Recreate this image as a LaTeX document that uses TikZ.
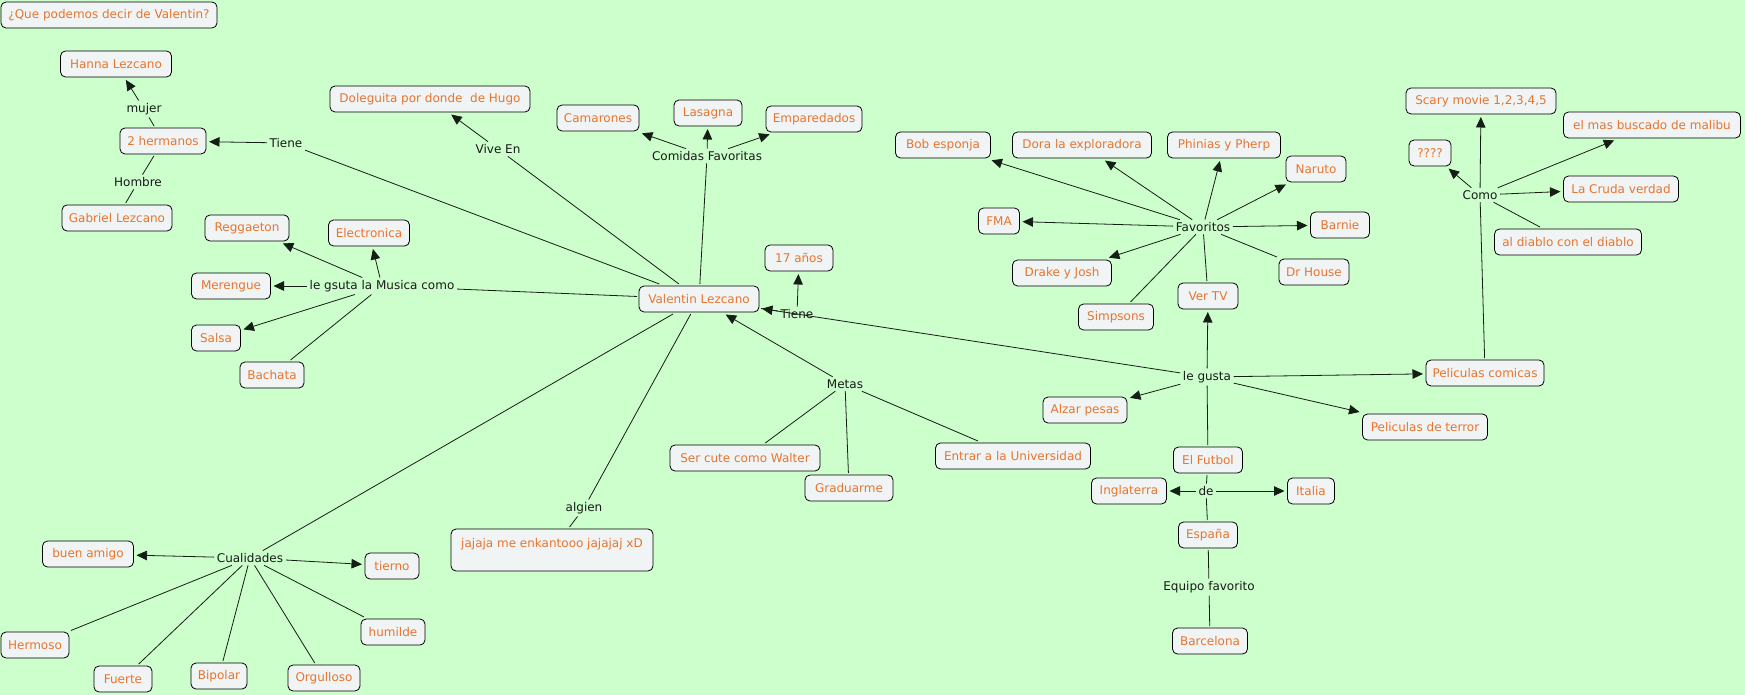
\documentclass[tikz,border=0pt]{standalone}
\usepackage{fontspec}
\setmainfont{DejaVu Sans}
\usetikzlibrary{arrows.meta}
\definecolor{bg}{RGB}{204,255,204}
\definecolor{boxfill}{RGB}{240,244,245}
\definecolor{orangetxt}{RGB}{232,116,46}
\definecolor{linecol}{RGB}{20,30,20}
\newcommand{\fs}{\fontsize{12}{14.5}\selectfont}
\tikzset{
  concept/.style={draw=black, line width=0.8pt, rounded corners=5pt, fill=boxfill,
    text=orangetxt, minimum height=26pt, inner xsep=3pt, inner ysep=0pt, outer sep=2pt, font=\fs},
  link/.style={text=black!90, inner sep=2.5pt, font=\fs},
  ln/.style={line width=0.8pt, draw=linecol},
  arr/.style={ln, -{Triangle[length=10.5pt,width=9.5pt]}, shorten >=1pt},
}
\begin{document}
\begin{tikzpicture}[x=1pt,y=-1pt]
\fill[bg] (0,0) rectangle (1745,695);
\useasboundingbox (0,0) rectangle (1745,695);
% concepts
\node[concept, minimum width=216pt] (q) at (109,15) {¿Que podemos decir de Valentin?};
\node[concept, minimum width=111pt] (hanna) at (116,64) {Hanna Lezcano};
\node[concept, minimum width=86pt] (herm) at (163,141) {2 hermanos};
\node[concept, minimum width=110pt] (gabriel) at (117,218) {Gabriel Lezcano};
\node[concept, minimum width=200pt] (dole) at (430,99) {Doleguita por donde\ \ de Hugo};
\node[concept, minimum width=84pt] (regg) at (247,228) {Reggaeton};
\node[concept, minimum width=81pt] (elec) at (369,233) {Electronica};
\node[concept, minimum width=79pt] (mer) at (231,286) {Merengue};
\node[concept, minimum width=49pt] (salsa) at (216,338) {Salsa};
\node[concept, minimum width=64pt] (bach) at (272,375) {Bachata};
\node[concept, minimum width=82pt] (cam) at (598,118) {Camarones};
\node[concept, minimum width=68pt] (las) at (708,113) {Lasagna};
\node[concept, minimum width=96pt] (emp) at (814,119) {Emparedados};
\node[concept, minimum width=95pt] (bob) at (943,145) {Bob esponja};
\node[concept, minimum width=139pt] (dora) at (1082,145) {Dora la exploradora};
\node[concept, minimum width=113pt] (phin) at (1224,145) {Phinias y Pherp};
\node[concept, minimum width=41pt] (fma) at (999,221) {FMA};
\node[concept, minimum width=99pt] (drake) at (1062,273) {Drake y Josh};
\node[concept, minimum width=75pt] (simp) at (1116,317) {Simpsons};
\node[concept, minimum width=60pt] (vertv) at (1208,296) {Ver TV};
\node[concept, minimum width=68pt] (anos) at (799,258) {17 años};
\node[concept, minimum width=120pt] (val) at (699,299) {Valentin Lezcano};
\node[concept, minimum width=150pt] (scary) at (1481,101) {Scary movie 1,2,3,4,5};
\node[concept, minimum width=177pt] (malibu) at (1652,125) {el mas buscado de malibu};
\node[concept, minimum width=42pt] (qqq) at (1430,153) {????};
\node[concept, minimum width=115pt] (cruda) at (1621,189) {La Cruda verdad};
\node[concept, minimum width=147pt] (diablo) at (1568,242) {al diablo con el diablo};
\node[concept, minimum width=60pt] (naruto) at (1316,169) {Naruto};
\node[concept, minimum width=59pt] (barnie) at (1340,225) {Barnie};
\node[concept, minimum width=70pt] (house) at (1314,272) {Dr House};
\node[concept, minimum width=118pt] (pcom) at (1485,373) {Peliculas comicas};
\node[concept, minimum width=84pt] (alzar) at (1085,410) {Alzar pesas};
\node[concept, minimum width=125pt] (pter) at (1425,427) {Peliculas de terror};
\node[concept, minimum width=69pt] (futbol) at (1208,460) {El Futbol};
\node[concept, minimum width=75pt] (ingl) at (1129,491) {Inglaterra};
\node[concept, minimum width=47pt] (italia) at (1311,491) {Italia};
\node[concept, minimum width=59pt] (espana) at (1208,535) {España};
\node[concept, minimum width=75pt] (barca) at (1210,641) {Barcelona};
\node[concept, minimum width=150pt] (walter) at (745,458) {Ser cute como Walter};
\node[concept, minimum width=88pt] (grad) at (849,488) {Graduarme};
\node[concept, minimum width=155pt] (entrar) at (1013,456) {Entrar a la Universidad};
\node[concept, minimum width=91pt] (amigo) at (88,554) {buen amigo};
\node[concept, minimum width=54pt] (tierno) at (392,566) {tierno};
\node[concept, minimum width=202pt, minimum height=42pt, align=center] (jaja) at (552,550) {jajaja me enkantooo jajajaj xD\\ \mbox{}};
\node[concept, minimum width=68pt] (hermoso) at (35,645) {Hermoso};
\node[concept, minimum width=58pt] (fuerte) at (123,679) {Fuerte};
\node[concept, minimum width=56pt] (bipolar) at (219,676) {Bipolar};
\node[concept, minimum width=72pt] (orgullo) at (324,678) {Orgulloso};
\node[concept, minimum width=64pt] (humilde) at (393,632) {humilde};
% linking phrases
\node[link] (tiene1) at (286,143) {Tiene};
\node[link] (mujer) at (144,109) {mujer};
\node[link] (hombre) at (138,182) {Hombre};
\node[link] (vive) at (498,149) {Vive En};
\node[link] (musica) at (382,286) {le gsuta la Musica como};
\node[link] (comidas) at (707,156) {Comidas Favoritas};
\node[link] (tiene2) at (797,314) {Tiene};
\node[link] (favoritos) at (1203,227) {Favoritos};
\node[link] (como) at (1480,195) {Como};
\node[link] (legusta) at (1207,377) {le gusta};
\node[link] (de) at (1206,491) {de};
\node[link] (equipo) at (1209,587) {Equipo favorito};
\node[link] (metas) at (845,384) {Metas};
\node[link] (algien) at (584,508) {algien};
\node[link] (cualidades) at (250,558) {Cualidades};
% connections
\draw[ln] (val) -- (tiene1); \draw[arr] (tiene1) -- (herm);
\draw[ln] (herm) -- (mujer); \draw[arr] (mujer) -- (hanna);
\draw[ln] (herm) -- (hombre); \draw[ln] (hombre) -- (gabriel);
\draw[ln] (val) -- (vive); \draw[arr] (vive) -- (dole);
\draw[ln] (val) -- (musica);
\draw[arr] (musica) -- (regg); \draw[arr] (musica) -- (elec);
\draw[arr] (musica) -- (mer); \draw[arr] (musica) -- (salsa);
\draw[ln] (musica) -- (bach);
\draw[ln] (val) -- (comidas);
\draw[arr] (comidas) -- (cam); \draw[arr] (comidas) -- (las); \draw[arr] (comidas) -- (emp);
\draw[ln] (val) -- (tiene2); \draw[arr] (tiene2) -- (anos);
\draw[arr] (legusta) -- (val);
\draw[arr] (legusta) -- (vertv); \draw[arr] (legusta) -- (alzar);
\draw[arr] (legusta) -- (pcom); \draw[arr] (legusta) -- (pter);
\draw[ln] (legusta) -- (futbol);
\draw[ln] (vertv) -- (favoritos);
\draw[arr] (favoritos) -- (bob); \draw[arr] (favoritos) -- (dora);
\draw[arr] (favoritos) -- (phin); \draw[arr] (favoritos) -- (naruto);
\draw[arr] (favoritos) -- (fma); \draw[arr] (favoritos) -- (barnie);
\draw[arr] (favoritos) -- (drake);
\draw[ln] (favoritos) -- (house); \draw[ln] (favoritos) -- (simp);
\draw[ln] (pcom) -- (como);
\draw[arr] (como) -- (scary); \draw[arr] (como) -- (qqq);
\draw[arr] (como) -- (malibu); \draw[arr] (como) -- (cruda);
\draw[ln] (como) -- (diablo);
\draw[ln] (futbol) -- (de);
\draw[arr] (de) -- (ingl); \draw[arr] (de) -- (italia);
\draw[ln] (de) -- (espana);
\draw[ln] (espana) -- (equipo); \draw[ln] (equipo) -- (barca);
\draw[arr] (metas) -- (val);
\draw[ln] (metas) -- (walter); \draw[ln] (metas) -- (grad); \draw[ln] (metas) -- (entrar);
\draw[ln] (val) -- (algien); \draw[ln] (algien) -- (jaja);
\draw[ln] (val) -- (cualidades);
\draw[arr] (cualidades) -- (amigo); \draw[arr] (cualidades) -- (tierno);
\draw[ln] (cualidades) -- (hermoso); \draw[ln] (cualidades) -- (fuerte);
\draw[ln] (cualidades) -- (bipolar); \draw[ln] (cualidades) -- (orgullo);
\draw[ln] (cualidades) -- (humilde);
\end{tikzpicture}
\end{document}
